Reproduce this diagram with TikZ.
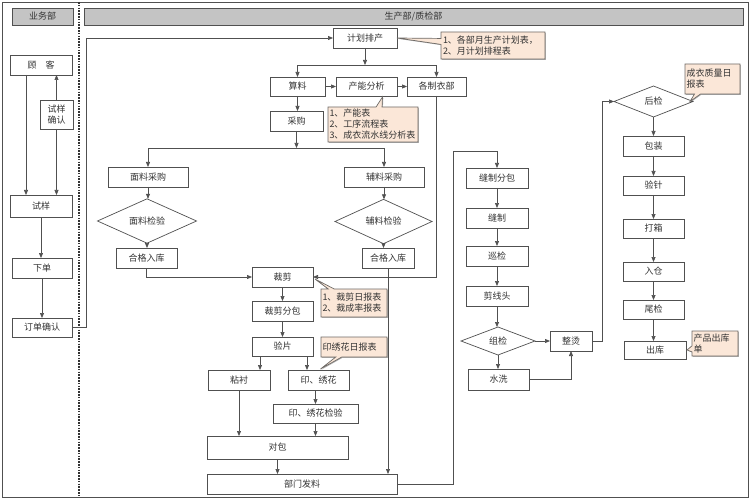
\documentclass[tikz,border=0pt]{standalone}
\usepackage{fontspec}
\setmainfont{Noto Sans CJK SC}
\usetikzlibrary{arrows.meta,shapes.geometric,shapes.callouts,shadows}
\definecolor{lnc}{HTML}{505050}
\definecolor{txc}{HTML}{333333}
\definecolor{hdc}{HTML}{C4C4C4}
\definecolor{cfc}{HTML}{FBE7D8}
\definecolor{cbc}{HTML}{6E6A66}
\newcommand\bx[7][]{\node[box,#1,minimum width={(#4-#2)*1pt},minimum height={(#5-#3)*1pt}] (#6) at ({(#2+#4)/2},{(#3+#5)/2}) {#7};}
\newcommand\dm[6]{\node[dia,minimum width=#3pt,minimum height=#4pt] (#5) at (#1,#2) {#6};}
\begin{document}
\begin{tikzpicture}[x=1pt,y=-1pt,font=\fontsize{9}{11}\selectfont,
  box/.style={draw=lnc,line width=0.7pt,fill=white,text=txc,inner sep=1pt,outer sep=0pt,align=center,
    drop shadow={shadow xshift=0.8pt,shadow yshift=-0.8pt,fill=black,opacity=0.3}},
  hdbox/.style={box,fill=hdc},
  dia/.style={diamond,draw=lnc,line width=0.7pt,fill=white,text=txc,inner sep=0pt,outer sep=0pt},
  conn/.style={draw=lnc,line width=0.7pt},
  arr/.style={conn,-{Triangle[length=5pt,width=4pt]}},
  co/.style={rectangle callout,draw=cbc,line width=0.7pt,fill=cfc,text=txc,align=left,
    inner xsep=1.5pt,inner ysep=1pt,callout pointer width=6pt,
    drop shadow={shadow xshift=0.8pt,shadow yshift=-0.8pt,fill=black,opacity=0.3}}]
\useasboundingbox (0,0) rectangle (750,500);
\draw[line width=0.9pt,draw=lnc] (2,2) rectangle (748,497);
\draw[line width=1.6pt,dash pattern=on 1.6pt off 1.2pt,draw=black!80] (79,2) -- (79,497);
% headers
\bx[hdbox]{12}{8}{73}{25}{h1}{业务部}
\node[hdbox,minimum width=659pt,minimum height=17pt] (h2) at (413.5,16.5) {生产部/质检部};
% left column
\bx{10}{55}{72}{75}{gk}{顾\hspace{1em}客}
\bx{40}{100}{73}{129}{sq}{试样\\确认}
\bx{10}{195}{72}{217}{sy}{试样}
\bx{12}{258}{72}{278}{xd}{下单}
\bx{12}{318}{72}{337}{dd}{订单确认}
% planning
\bx{333}{28}{397}{48}{jh}{计划排产}
\bx{270}{77}{325}{96}{sl}{算料}
\bx{336}{77}{397}{96}{cn}{产能分析}
\bx{407}{77}{466}{96}{gz}{各制衣部}
\bx{270}{111}{323}{131}{cg}{采购}
\bx{108}{167}{188}{187}{ml}{面料采购}
\dm{147}{221}{99}{28}{mj}{面料检验}
\bx{116}{248}{177}{268}{hl}{合格入库}
\bx{344}{167}{424}{187}{fl}{辅料采购}
\dm{383.5}{221.5}{97}{27}{fj}{辅料检验}
\bx{362}{248}{414}{268}{hr}{合格入库}
% cutting
\bx{252}{267}{313}{287}{cj}{裁剪}
\bx{252}{301}{313}{321}{cf}{裁剪分包}
\bx{252}{337}{313}{356}{yp}{验片}
\bx{208}{370}{270}{390}{nc}{粘衬}
\bx{288}{370}{349}{390}{yx}{印、绣花}
\bx{273}{404}{358}{423}{yj}{印、绣花检验}
\bx{207}{436}{348}{459}{db}{对包}
\bx{207}{474}{397}{494}{bm}{部门发料}
% sewing
\bx{466}{168}{528}{188}{fb}{缝制分包}
\bx{466}{208}{528}{228}{fz}{缝制}
\bx{466}{246}{528}{266}{xj}{巡检}
\bx{466}{286}{528}{306}{jx}{剪线头}
\dm{498}{341}{74}{28}{zj}{组检}
\bx{550}{331}{592}{351}{zt}{整烫}
\bx{468}{369}{529}{390}{sx}{水洗}
% finishing
\dm{653.5}{101.5}{79}{31}{hj}{后检}
\bx{623}{136}{684}{156}{bz}{包装}
\bx{623}{176}{684}{195}{yz}{验针}
\bx{623}{219}{684}{238}{dx}{打箱}
\bx{623}{262}{684}{281}{rc}{入仓}
\bx{623}{300}{684}{319}{wj}{尾检}
\bx{624}{341}{686}{359}{ck}{出库}
% callouts
\node[co,minimum width=104pt,minimum height=27pt,text width=100pt,callout absolute pointer={(jh.east)}] (c1) at (493,45.5) {1、各部月生产计划表，\\2、月计划排程表};
\node[co,minimum width=90pt,minimum height=35pt,text width=87pt,callout absolute pointer={([xshift=16pt,yshift=-1pt]cn.south)}] (c2) at (373,124.5) {1、产能表\\2、工序流程表\\3、成衣流水线分析表};
\node[co,minimum width=66pt,minimum height=28pt,text width=63pt,callout absolute pointer={([xshift=2pt,yshift=-2pt]cj.east)}] (c3) at (354,303) {1、裁剪日报表\\2、裁成率报表};
\node[co,minimum width=66pt,minimum height=20pt,text width=63pt,callout absolute pointer={([xshift=2pt,yshift=1pt]yx.north)}] (c4) at (354,347) {印绣花日报表};
\node[co,minimum width=55pt,minimum height=30pt,text width=52pt,callout absolute pointer={([xshift=-3pt]hj.east)}] (c5) at (712.5,79) {成衣质量日\\报表};
\node[co,minimum width=46pt,minimum height=25pt,text width=43pt,callout absolute pointer={([xshift=1pt]ck.east)}] (c6) at (715,343.5) {产品出库\\单};
% coordinates
\coordinate (s1) at (365,65);
\coordinate (s2) at (297.5,148);
\coordinate (k1) at (453,151);
% left connectors
\draw[arr] ([xshift=-15pt]gk.south) -- ([xshift=-15pt]gk.south |- sy.north);
\draw[arr] (sq.north) -- (sq.north |- gk.south);
\draw[arr] (sq.south) -- (sq.south |- sy.north);
\draw[arr] (sy.south) -- (sy.south |- xd.north);
\draw[arr] (xd.south) -- (xd.south |- dd.north);
\draw[arr] (dd.east) -- ++(14,0) |- (jh.west);
% planning connectors
\draw[arr] (jh.south |- jh.south) -- (jh.south |- s1);
\draw[arr] (jh.south |- s1) -| (sl.north);
\draw[arr] (jh.south |- s1) -| (gz.north);
\draw[arr] (sl.east) -- (cn.west);
\draw[arr] (cn.east) -- (gz.west);
\draw[arr] (sl.south) -- (sl.south |- cg.north);
\draw[arr] (cg.south) -- (cg.south |- s2);
\draw[arr] (cg.south |- s2) -| (ml.north);
\draw[arr] (cg.south |- s2) -| (fl.north);
\draw[arr] (ml.south) -- (ml.south |- mj.north);
\draw[arr] (mj.south) -- (mj.south |- hl.north);
\draw[arr] (fl.south) -- (fl.south |- fj.north);
\draw[arr] (fj.south) -- (fj.south |- hr.north);
\draw[arr] (hl.south) |- (cj.west);
\draw[arr] (gz.south) |- (cj.east);
\draw[arr] (hr.south) -- (hr.south |- bm.north);
% cutting connectors
\draw[arr] (cj.south) -- (cj.south |- cf.north);
\draw[arr] (cf.south) -- (cf.south |- yp.north);
\draw[arr] ([xshift=-22.5pt]yp.south) -- ([xshift=-22.5pt]yp.south |- nc.north);
\draw[arr] ([xshift=24.5pt]yp.south) -- ([xshift=24.5pt]yp.south |- yx.north);
\draw[arr] (yj.north |- yx.south) -- (yj.north);
\draw[arr] (nc.south) -- (nc.south |- db.north);
\draw[arr] (yj.south) -- (yj.south |- db.north);
\draw[arr] (db.south) -- (db.south |- bm.north);
\draw[arr] (bm.east) -| (k1) -| (fb.north);
% sewing connectors
\draw[arr] (fb.south) -- (fb.south |- fz.north);
\draw[arr] (fz.south) -- (fz.south |- xj.north);
\draw[arr] (xj.south) -- (xj.south |- jx.north);
\draw[arr] (jx.south) -- (jx.south |- zj.north);
\draw[arr] (zj.east) -- (zt.west);
\draw[arr] (zj.south) -- (zj.south |- sx.north);
\draw[arr] (sx.east) -| (zt.south);
\draw[arr] (zt.east) -- ++(10,0) |- (hj.west);
% finishing connectors
\draw[arr] (hj.south) -- (hj.south |- bz.north);
\draw[arr] (bz.south) -- (bz.south |- yz.north);
\draw[arr] (yz.south) -- (yz.south |- dx.north);
\draw[arr] (dx.south) -- (dx.south |- rc.north);
\draw[arr] (rc.south) -- (rc.south |- wj.north);
\draw[arr] (wj.south) -- (wj.south |- ck.north);
\end{tikzpicture}
\end{document}
